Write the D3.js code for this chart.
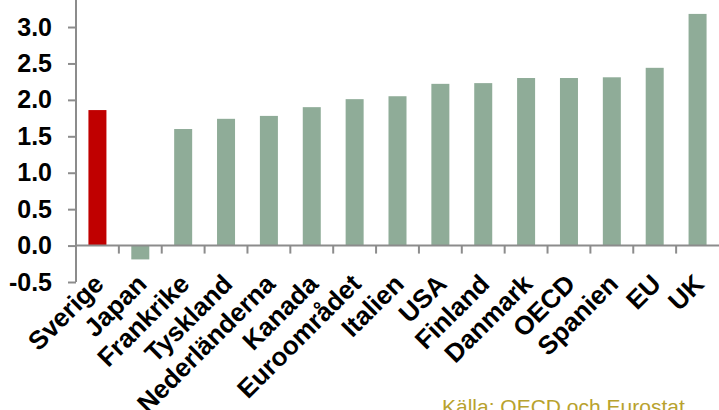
<!DOCTYPE html>
<html><head><meta charset="utf-8">
<script src="https://cdn.jsdelivr.net/npm/d3@7/dist/d3.min.js"></script>
<style>
html,body{margin:0;padding:0;background:#fff;overflow:hidden}
svg{display:block;font-family:"Liberation Sans",Arial,sans-serif}
</style></head>
<body><svg id="c" width="719" height="410"></svg>
<script>
const categories = ["Sverige","Japan","Frankrike","Tyskland","Nederländerna","Kanada","Euroområdet","Italien","USA","Finland","Danmark","OECD","Spanien","EU","UK"];
const values = [1.86,-0.19,1.60,1.74,1.78,1.90,2.01,2.05,2.22,2.23,2.30,2.30,2.31,2.44,3.18];
const highlight = ["Sverige"];
const yTicks = [-0.5,0.0,0.5,1.0,1.5,2.0,2.5,3.0];
const source = "Källa: OECD och Eurostat";

const svg = d3.select("#c");
const x = d3.scaleBand().domain(categories).range([76, 719]).paddingInner(0.58).paddingOuter(0.29);
const y = d3.scaleLinear().domain([-0.5, 3.5]).range([282, -9.4]);
const axisColor = "#8c8c8c";

// bars
svg.append("g").selectAll("rect").data(categories).join("rect")
  .attr("x", d => x(d))
  .attr("width", x.bandwidth())
  .attr("y", (d,i) => y(Math.max(0, values[i])))
  .attr("height", (d,i) => Math.abs(y(values[i]) - y(0)))
  .attr("fill", d => highlight.includes(d) ? "#C00000" : "#8FAC98");

// y axis
const fmt = d => d.toFixed(1);
const ya = svg.append("g").attr("transform","translate(76,0)")
  .call(d3.axisLeft(y).tickValues(yTicks).tickFormat(fmt).tickSize(8).tickPadding(16));
ya.select(".domain").attr("stroke", axisColor).attr("stroke-width",2).attr("d", `M0,0V${y(-0.5)}`);
ya.selectAll(".tick line").attr("stroke", axisColor).attr("stroke-width",2);
ya.selectAll(".tick text").attr("fill","#000").style("font-size","25px").style("font-weight","bold");

// x axis (category boundaries)
const step = x.step();
const xa = svg.append("g");
xa.append("line").attr("x1",76).attr("x2",719).attr("y1",y(0)).attr("y2",y(0))
  .attr("stroke",axisColor).attr("stroke-width",2);
const bandStart = d => x(d) - (step - x.bandwidth())/2;
xa.selectAll("line.t").data(categories.slice(1)).join("line").attr("class","t")
  .attr("x1", d => bandStart(d)).attr("x2", d => bandStart(d))
  .attr("y1", y(0)).attr("y2", y(0)+8)
  .attr("stroke",axisColor).attr("stroke-width",2);

// category labels
svg.append("g").selectAll("text").data(categories).join("text")
  .attr("transform", d => `translate(${x(d)+x.bandwidth()/2-5},${y(0)+27}) rotate(-45)`)
  .attr("text-anchor","end")
  .attr("dy","0.7em")
  .style("font-size","26px").style("font-weight","bold").attr("fill","#000")
  .text(d => d);

// source
svg.append("text").attr("x",442).attr("y",414).attr("fill","#B8A22E")
  .style("font-size","21px").text(source);
</script></body></html>
